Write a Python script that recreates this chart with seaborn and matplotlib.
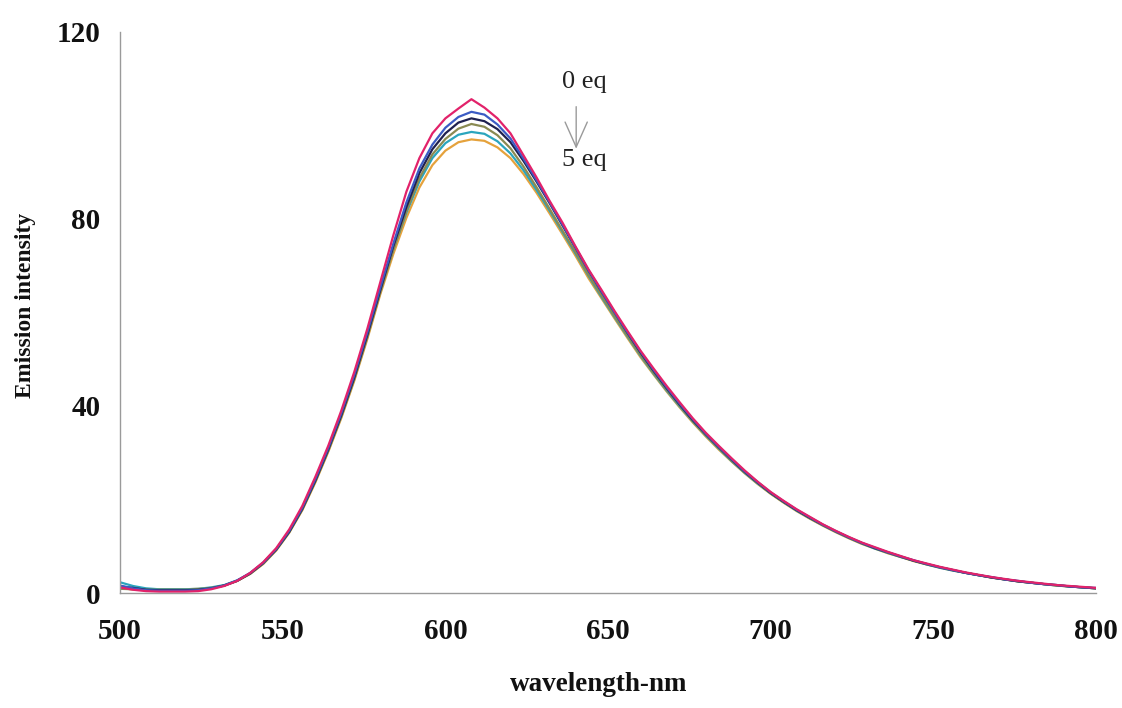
import numpy as np
import pandas as pd
import matplotlib
matplotlib.use("Agg")
import matplotlib.pyplot as plt
import seaborn as sns

# Emission spectra, 4 nm steps from 500 to 800 nm
wavelength = np.arange(500, 801, 4)

eq0 = [1.2, 0.7, 0.4, 0.3, 0.3, 0.3, 0.4, 0.8, 1.5, 2.6, 4.3, 6.6, 9.6, 13.6, 18.6, 24.8,
       31.5, 39.0, 47.3, 56.5, 66.5, 76.5, 85.8, 93.0, 98.3, 101.5, 103.6, 105.6, 103.8, 101.5,
       98.3, 93.6, 88.9, 83.9, 79.2, 74.1, 69.2, 64.8, 60.3, 56.0, 51.8, 48.0, 44.3, 40.8, 37.4,
       34.3, 31.5, 28.8, 26.2, 23.8, 21.6, 19.7, 17.9, 16.3, 14.7, 13.3, 12.0, 10.8, 9.8, 8.8,
       7.9, 7.0, 6.3, 5.6, 5.0, 4.4, 3.9, 3.4, 3.0, 2.6, 2.3, 2.0, 1.7, 1.5, 1.3, 1.1]
eq1 = [1.6, 1.0, 0.6, 0.5, 0.5, 0.5, 0.6, 1.0, 1.6, 2.7, 4.3, 6.5, 9.4, 13.3, 18.2, 24.3,
       31.0, 38.4, 46.6, 55.7, 65.3, 74.7, 83.5, 90.8, 95.9, 99.5, 101.8, 102.9, 102.3, 100.2,
       97.2, 92.9, 88.3, 83.6, 78.8, 73.9, 69.0, 64.5, 60.0, 55.7, 51.6, 47.7, 44.0, 40.5, 37.2,
       34.1, 31.3, 28.6, 26.0, 23.7, 21.5, 19.6, 17.8, 16.2, 14.6, 13.2, 11.9, 10.7, 9.7, 8.7,
       7.8, 7.0, 6.2, 5.5, 4.9, 4.3, 3.8, 3.4, 2.9, 2.6, 2.2, 1.9, 1.7, 1.4, 1.2, 1.1]
eq2 = [1.4, 1.1, 0.7, 0.6, 0.6, 0.6, 0.7, 1.0, 1.6, 2.6, 4.2, 6.4, 9.3, 13.1, 18.0, 24.0,
       30.7, 38.0, 46.1, 55.2, 64.8, 74.2, 82.5, 89.8, 94.9, 98.3, 100.6, 101.5, 100.9, 99.2,
       96.4, 92.4, 88.0, 83.4, 78.6, 73.8, 68.9, 64.4, 60.0, 55.6, 51.4, 47.5, 43.8, 40.3, 37.0,
       34.0, 31.2, 28.5, 25.9, 23.6, 21.4, 19.5, 17.7, 16.1, 14.6, 13.2, 11.9, 10.7, 9.6, 8.7,
       7.8, 6.9, 6.2, 5.5, 4.9, 4.3, 3.8, 3.3, 2.9, 2.5, 2.2, 1.9, 1.7, 1.4, 1.2, 1.0]
eq3 = [0.9, 0.8, 0.7, 0.7, 0.7, 0.7, 0.8, 1.1, 1.6, 2.6, 4.1, 6.3, 9.2, 13.0, 17.8, 23.8,
       30.4, 37.7, 45.7, 54.7, 64.3, 73.4, 81.6, 88.7, 93.8, 97.1, 99.3, 100.3, 99.7, 97.9,
       95.1, 91.2, 86.8, 82.2, 77.5, 72.9, 68.0, 63.6, 59.2, 55.0, 50.9, 47.1, 43.5, 40.1, 36.8,
       33.8, 31.0, 28.3, 25.8, 23.5, 21.3, 19.4, 17.7, 16.0, 14.5, 13.1, 11.8, 10.6, 9.6, 8.6,
       7.7, 6.9, 6.1, 5.5, 4.9, 4.3, 3.8, 3.3, 2.9, 2.5, 2.2, 1.9, 1.6, 1.4, 1.2, 1.0]
eq4 = [2.3, 1.5, 1.0, 0.8, 0.8, 0.8, 0.9, 1.2, 1.7, 2.7, 4.2, 6.4, 9.3, 13.1, 18.0, 24.0,
       30.6, 37.9, 46.0, 55.0, 64.7, 73.5, 81.3, 88.0, 93.0, 96.2, 98.0, 98.6, 98.2, 96.6,
       94.0, 90.4, 86.2, 81.8, 77.2, 72.6, 67.8, 63.3, 59.0, 54.8, 50.7, 46.9, 43.3, 39.9, 36.7,
       33.7, 30.9, 28.2, 25.7, 23.4, 21.3, 19.4, 17.6, 16.0, 14.5, 13.1, 11.8, 10.6, 9.5, 8.6,
       7.7, 6.9, 6.1, 5.4, 4.8, 4.3, 3.8, 3.3, 2.9, 2.5, 2.2, 1.9, 1.6, 1.4, 1.2, 1.0]
eq5 = [1.0, 0.8, 0.8, 0.8, 0.8, 0.8, 0.9, 1.1, 1.6, 2.6, 4.1, 6.2, 9.1, 12.9, 17.7, 23.6,
       30.2, 37.4, 45.4, 54.3, 63.9, 72.5, 80.2, 86.7, 91.5, 94.6, 96.4, 97.0, 96.7, 95.3,
       93.0, 89.6, 85.6, 81.2, 76.7, 72.1, 67.3, 63.0, 58.7, 54.5, 50.4, 46.7, 43.1, 39.7, 36.5,
       33.5, 30.7, 28.1, 25.6, 23.3, 21.2, 19.3, 17.5, 15.9, 14.4, 13.0, 11.7, 10.5, 9.5, 8.5,
       7.7, 6.8, 6.1, 5.4, 4.8, 4.3, 3.8, 3.3, 2.9, 2.5, 2.2, 1.9, 1.6, 1.4, 1.2, 1.0]

series_names = ["0 eq", "1 eq", "2 eq", "3 eq", "4 eq", "5 eq"]
series_values = [eq0, eq1, eq2, eq3, eq4, eq5]
series_colors = ["#e2226a", "#3b5bc4", "#1f2150", "#8a8a52", "#2aa5bd", "#e5a23c"]

frames = []
for name, vals in zip(series_names, series_values):
    frames.append(pd.DataFrame({"wavelength": wavelength, "intensity": vals, "eq": name}))
df = pd.concat(frames, ignore_index=True)

sns.set_theme(style="white")
plt.rcParams["font.family"] = ["Liberation Serif", "DejaVu Serif"]

fig = plt.figure(figsize=(11.22, 7.08), dpi=100)
ax = fig.add_axes([0.107, 0.1624, 0.8699, 0.7926])

# draw the highest-concentration trace first so the 0 eq trace sits on top
for name, color in reversed(list(zip(series_names, series_colors))):
    sub = df[df["eq"] == name]
    sns.lineplot(data=sub, x="wavelength", y="intensity", color=color,
                 linewidth=1.6, ax=ax, legend=False)

ax.set_xlim(500, 800)
ax.set_ylim(0, 120)
ax.set_xticks([500, 550, 600, 650, 700, 750, 800])
ax.set_yticks([0, 40, 80, 120])

for side in ["top", "right"]:
    ax.spines[side].set_visible(False)
for side in ["left", "bottom"]:
    ax.spines[side].set_color("#9a9a9a")
    ax.spines[side].set_linewidth(1.0)

ax.tick_params(axis="x", direction="inout", length=6, width=1, color="#9a9a9a",
               pad=15, labelsize=21)
ax.tick_params(axis="y", length=0, pad=14, labelsize=21)
for lbl in ax.get_xticklabels() + ax.get_yticklabels():
    lbl.set_fontweight("bold")
    lbl.set_color("#111111")

ax.set_xlabel("wavelength-nm", fontsize=19.5, fontweight="bold", color="#111111")
ax.set_ylabel("Emission intensity", fontsize=17, fontweight="bold", color="#111111")
ax.xaxis.set_label_coords(0.49, -0.14)
ax.yaxis.set_label_coords(-0.086, 0.513)

# titration direction marker
ax.text(642.6, 109.3, "0 eq", fontsize=19, color="#222222", ha="center", va="center")
ax.text(642.6, 92.6, "5 eq", fontsize=19, color="#222222", ha="center", va="center")
ax.annotate("", xy=(640.2, 95.0), xytext=(640.2, 104.0),
            arrowprops=dict(arrowstyle="->, head_width=0.4, head_length=0.9",
                            color="#9a9a9a", lw=1.0, mutation_scale=20,
                            shrinkA=0, shrinkB=0))

fig.savefig("out.png", dpi=100)
